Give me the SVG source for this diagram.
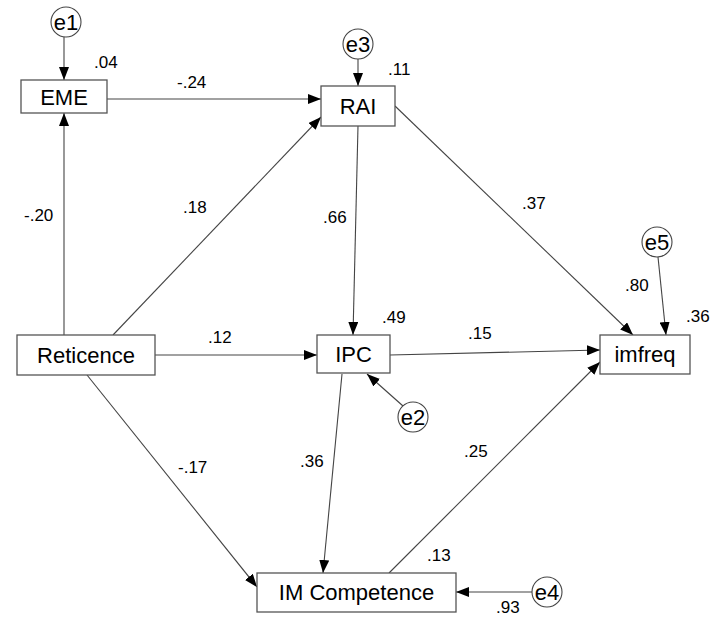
<svg xmlns="http://www.w3.org/2000/svg" width="710" height="624" viewBox="0 0 710 624">
<style>
.box{fill:#fff;stroke:#555;stroke-width:1.3}
.err{fill:#fff;stroke:#444;stroke-width:1.1}
.lbl{font-family:"Liberation Sans",Arial,sans-serif;font-size:22px;fill:#000;text-anchor:middle}
.num{font-family:"Liberation Sans",Arial,sans-serif;font-size:17px;fill:#000}
.edge{stroke:#444;stroke-width:1.1;fill:none;marker-end:url(#ah)}
</style>
<defs>
<marker id="ah" markerUnits="userSpaceOnUse" markerWidth="13" markerHeight="10" refX="13" refY="5" orient="auto">
<path d="M0,0 L13,5 L0,10 z" fill="#000"/>
</marker>
</defs>
<rect width="710" height="624" fill="#fff"/>
<g id="connectors">
<line class="edge" x1="64" y1="37" x2="64" y2="80"/>
<line class="edge" x1="358" y1="59" x2="358" y2="86"/>
<line class="edge" x1="107" y1="99" x2="321" y2="99"/>
<line class="edge" x1="64" y1="335" x2="64" y2="113"/>
<line class="edge" x1="113" y1="335" x2="321" y2="117"/>
<line class="edge" x1="358" y1="126" x2="353" y2="335"/>
<line class="edge" x1="395" y1="106" x2="633" y2="335"/>
<line class="edge" x1="155" y1="355" x2="317" y2="355"/>
<line class="edge" x1="390" y1="355" x2="600" y2="350"/>
<line class="edge" x1="658" y1="257" x2="666" y2="335"/>
<line class="edge" x1="403" y1="406" x2="367" y2="374"/>
<line class="edge" x1="342" y1="374" x2="323" y2="573"/>
<line class="edge" x1="87" y1="375" x2="257" y2="587"/>
<line class="edge" x1="389" y1="573" x2="600" y2="362"/>
<line class="edge" x1="532" y1="592" x2="456" y2="592"/>
</g>
<g id="EME"><rect class="box" x="21" y="80" width="86" height="33"/><text class="lbl" x="64" y="105">EME</text></g>
<g id="RAI"><rect class="box" x="321" y="86" width="74" height="40"/><text class="lbl" x="358" y="114">RAI</text></g>
<g id="Reticence"><rect class="box" x="17" y="335" width="138" height="40"/><text class="lbl" x="86" y="363">Reticence</text></g>
<g id="IPC"><rect class="box" x="317" y="335" width="73" height="38"/><text class="lbl" x="353.5" y="362">IPC</text></g>
<g id="imfreq"><rect class="box" x="600" y="335" width="90" height="39"/><text class="lbl" x="645" y="362">imfreq</text></g>
<g id="IMCompetence"><rect class="box" x="257" y="573" width="199" height="39"/><text class="lbl" x="356.5" y="600">IM Competence</text></g>
<g id="e1"><circle class="err" cx="66" cy="22" r="15"/><text class="lbl" x="66" y="30">e1</text></g>
<g id="e3"><circle class="err" cx="358" cy="44" r="15"/><text class="lbl" x="358" y="52">e3</text></g>
<g id="e5"><circle class="err" cx="657" cy="242" r="15"/><text class="lbl" x="657" y="250">e5</text></g>
<g id="e2"><circle class="err" cx="413" cy="417" r="15"/><text class="lbl" x="413" y="425">e2</text></g>
<g id="e4"><circle class="err" cx="547" cy="592" r="15"/><text class="lbl" x="547" y="600">e4</text></g>
<g id="labels">
<text class="num" x="94" y="68">.04</text>
<text class="num" x="177" y="88">-.24</text>
<text class="num" x="388" y="75">.11</text>
<text class="num" x="24" y="221">-.20</text>
<text class="num" x="183" y="213">.18</text>
<text class="num" x="323" y="223">.66</text>
<text class="num" x="522" y="209">.37</text>
<text class="num" x="625" y="291">.80</text>
<text class="num" x="686" y="322">.36</text>
<text class="num" x="208" y="343">.12</text>
<text class="num" x="382" y="323">.49</text>
<text class="num" x="468" y="339">.15</text>
<text class="num" x="178" y="473">-.17</text>
<text class="num" x="300" y="467">.36</text>
<text class="num" x="464" y="457">.25</text>
<text class="num" x="427" y="561">.13</text>
<text class="num" x="496" y="613">.93</text>
</g>
</svg>
